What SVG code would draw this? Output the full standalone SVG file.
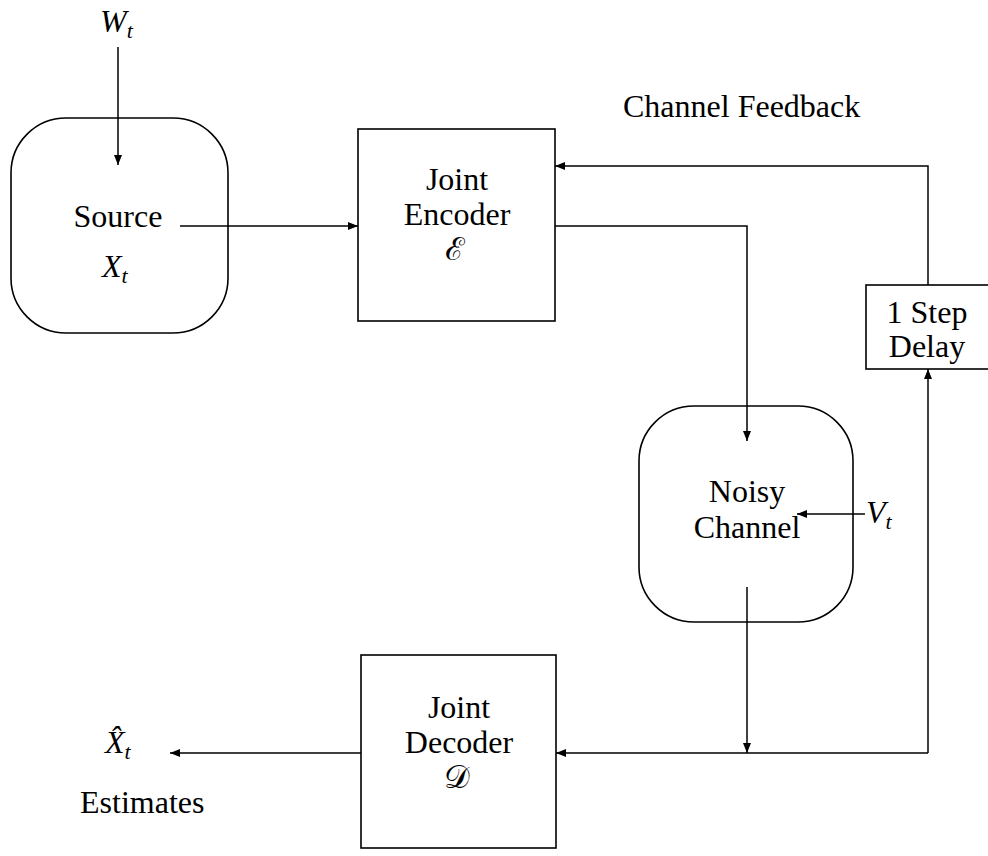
<svg xmlns="http://www.w3.org/2000/svg" width="988" height="856" viewBox="0 0 988 856">
<defs>
<marker id="ah" viewBox="0 0 10 8" refX="10" refY="4" markerWidth="10" markerHeight="8" markerUnits="userSpaceOnUse" orient="auto">
<path d="M0,0 L10,4 L0,8 Z" fill="#000"/>
</marker>
</defs>
<style>
.box{fill:#fff;stroke:#000;stroke-width:1.6}
.ln{fill:none;stroke:#000;stroke-width:1.5}
.arr{fill:none;stroke:#000;stroke-width:1.5;marker-end:url(#ah)}
text{font-family:"Liberation Serif","DejaVu Serif",serif;font-size:32px;fill:#000}
.c{text-anchor:middle}
.m{font-style:italic}
.sub{font-size:22px;font-style:italic}
.cal{font-family:"DejaVu Serif","Noto Sans",serif;font-style:normal}
</style>
<rect width="988" height="856" fill="#fff"/>
<g id="source">
<rect class="box" x="11" y="118" width="217" height="215" rx="55" ry="55"/>
<text class="c" x="118" y="227">Source</text>
<text class="m" x="102" y="277">X<tspan class="sub" dy="6">t</tspan></text>
</g>
<g id="encoder">
<rect class="box" x="358" y="129" width="197" height="192"/>
<text class="c" x="457" y="190">Joint</text>
<text class="c" x="457" y="225">Encoder</text>
<text class="c cal" x="455" y="260">ℰ</text>
</g>
<g id="delay">
<rect class="box" x="866" y="285" width="140" height="84"/>
<text class="c" x="927" y="323">1 Step</text>
<text class="c" x="927" y="357">Delay</text>
</g>
<g id="channel">
<rect class="box" x="639" y="406" width="214" height="216" rx="55" ry="55"/>
<text class="c" x="747" y="502">Noisy</text>
<text class="c" x="747" y="538">Channel</text>
</g>
<g id="decoder">
<rect class="box" x="361" y="655" width="195" height="193"/>
<text class="c" x="459" y="718">Joint</text>
<text class="c" x="459" y="753">Decoder</text>
<text class="c cal" x="457" y="788">𝒟</text>
</g>
<g id="labels">
<text class="m" x="100" y="32">W<tspan class="sub" dy="6">t</tspan></text>
<text x="623" y="117">Channel Feedback</text>
<text class="m" x="866" y="523">V<tspan class="sub" dy="6">t</tspan></text>
<text class="m" x="105" y="753">X̂<tspan class="sub" dy="6">t</tspan></text>
<text x="80" y="813">Estimates</text>
</g>
<g id="connectors">
<line class="arr" x1="118" y1="47" x2="118" y2="165"/>
<line class="arr" x1="180" y1="226" x2="358" y2="226"/>
<polyline class="arr" points="928,285 928,166 555,166"/>
<polyline class="arr" points="555,226 747,226 747,441"/>
<line class="arr" x1="865" y1="514" x2="797" y2="514"/>
<line class="arr" x1="747" y1="587" x2="747" y2="753"/>
<line class="arr" x1="928" y1="753" x2="556" y2="753"/>
<line class="arr" x1="928" y1="753" x2="928" y2="369"/>
<line class="arr" x1="361" y1="753" x2="170" y2="753"/>
</g>
</svg>
